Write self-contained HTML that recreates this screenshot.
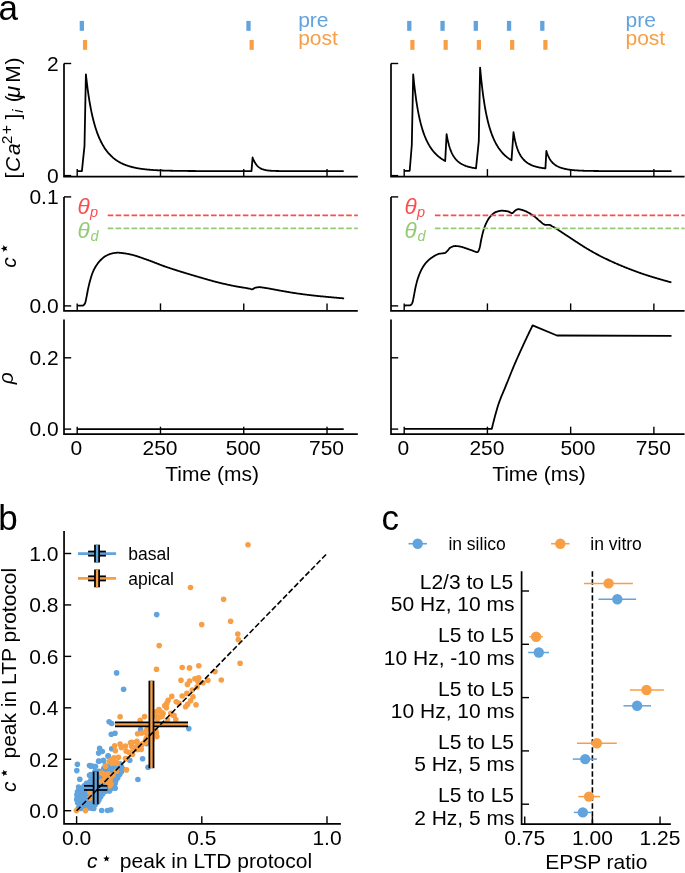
<!DOCTYPE html>
<html><head><meta charset="utf-8"><style>
html,body{margin:0;padding:0;background:#fff;}
svg{display:block;}
text{font-family:"Liberation Sans", sans-serif;}
svg{will-change:transform;}
</style></head><body>
<svg width="685" height="873" viewBox="0 0 685 873">
<path d="M64.00,63.50 L64.00,176.60 L357.80,176.60" fill="none" stroke="#000" stroke-width="1.7" stroke-linejoin="miter"/>
<line x1="77.20" y1="176.60" x2="77.20" y2="169.10" stroke="#000" stroke-width="1.4" />
<line x1="160.48" y1="176.60" x2="160.48" y2="169.10" stroke="#000" stroke-width="1.4" />
<line x1="243.75" y1="176.60" x2="243.75" y2="169.10" stroke="#000" stroke-width="1.4" />
<line x1="327.03" y1="176.60" x2="327.03" y2="169.10" stroke="#000" stroke-width="1.4" />
<path d="M64.00,196.90 L64.00,310.90 L357.80,310.90" fill="none" stroke="#000" stroke-width="1.7" stroke-linejoin="miter"/>
<line x1="77.20" y1="310.90" x2="77.20" y2="303.40" stroke="#000" stroke-width="1.4" />
<line x1="160.48" y1="310.90" x2="160.48" y2="303.40" stroke="#000" stroke-width="1.4" />
<line x1="243.75" y1="310.90" x2="243.75" y2="303.40" stroke="#000" stroke-width="1.4" />
<line x1="327.03" y1="310.90" x2="327.03" y2="303.40" stroke="#000" stroke-width="1.4" />
<path d="M64.00,319.50 L64.00,434.20 L357.80,434.20" fill="none" stroke="#000" stroke-width="1.7" stroke-linejoin="miter"/>
<line x1="77.20" y1="434.20" x2="77.20" y2="426.70" stroke="#000" stroke-width="1.4" />
<line x1="160.48" y1="434.20" x2="160.48" y2="426.70" stroke="#000" stroke-width="1.4" />
<line x1="243.75" y1="434.20" x2="243.75" y2="426.70" stroke="#000" stroke-width="1.4" />
<line x1="327.03" y1="434.20" x2="327.03" y2="426.70" stroke="#000" stroke-width="1.4" />
<line x1="64.00" y1="63.50" x2="71.20" y2="63.50" stroke="#000" stroke-width="1.4" />
<line x1="64.00" y1="175.60" x2="71.20" y2="175.60" stroke="#000" stroke-width="1.4" />
<line x1="64.00" y1="196.90" x2="71.20" y2="196.90" stroke="#000" stroke-width="1.4" />
<line x1="64.00" y1="305.90" x2="71.20" y2="305.90" stroke="#000" stroke-width="1.4" />
<line x1="64.00" y1="357.80" x2="71.20" y2="357.80" stroke="#000" stroke-width="1.4" />
<line x1="64.00" y1="429.10" x2="71.20" y2="429.10" stroke="#000" stroke-width="1.4" />
<text x="76.30" y="455.20" font-size="21" text-anchor="middle" fill="#000" >0</text>
<text x="159.98" y="455.20" font-size="21" text-anchor="middle" fill="#000" >250</text>
<text x="243.25" y="455.20" font-size="21" text-anchor="middle" fill="#000" >500</text>
<text x="326.53" y="455.20" font-size="21" text-anchor="middle" fill="#000" >750</text>
<text x="212.10" y="480.60" font-size="21" text-anchor="middle" fill="#000" >Time (ms)</text>
<path d="M391.00,63.50 L391.00,176.60 L684.60,176.60" fill="none" stroke="#000" stroke-width="1.7" stroke-linejoin="miter"/>
<line x1="404.20" y1="176.60" x2="404.20" y2="169.10" stroke="#000" stroke-width="1.4" />
<line x1="487.42" y1="176.60" x2="487.42" y2="169.10" stroke="#000" stroke-width="1.4" />
<line x1="570.65" y1="176.60" x2="570.65" y2="169.10" stroke="#000" stroke-width="1.4" />
<line x1="653.88" y1="176.60" x2="653.88" y2="169.10" stroke="#000" stroke-width="1.4" />
<path d="M391.00,196.90 L391.00,310.90 L684.60,310.90" fill="none" stroke="#000" stroke-width="1.7" stroke-linejoin="miter"/>
<line x1="404.20" y1="310.90" x2="404.20" y2="303.40" stroke="#000" stroke-width="1.4" />
<line x1="487.42" y1="310.90" x2="487.42" y2="303.40" stroke="#000" stroke-width="1.4" />
<line x1="570.65" y1="310.90" x2="570.65" y2="303.40" stroke="#000" stroke-width="1.4" />
<line x1="653.88" y1="310.90" x2="653.88" y2="303.40" stroke="#000" stroke-width="1.4" />
<path d="M391.00,319.50 L391.00,434.20 L684.60,434.20" fill="none" stroke="#000" stroke-width="1.7" stroke-linejoin="miter"/>
<line x1="404.20" y1="434.20" x2="404.20" y2="426.70" stroke="#000" stroke-width="1.4" />
<line x1="487.42" y1="434.20" x2="487.42" y2="426.70" stroke="#000" stroke-width="1.4" />
<line x1="570.65" y1="434.20" x2="570.65" y2="426.70" stroke="#000" stroke-width="1.4" />
<line x1="653.88" y1="434.20" x2="653.88" y2="426.70" stroke="#000" stroke-width="1.4" />
<line x1="391.00" y1="63.50" x2="398.20" y2="63.50" stroke="#000" stroke-width="1.4" />
<line x1="391.00" y1="175.60" x2="398.20" y2="175.60" stroke="#000" stroke-width="1.4" />
<line x1="391.00" y1="196.90" x2="398.20" y2="196.90" stroke="#000" stroke-width="1.4" />
<line x1="391.00" y1="305.90" x2="398.20" y2="305.90" stroke="#000" stroke-width="1.4" />
<line x1="391.00" y1="357.80" x2="398.20" y2="357.80" stroke="#000" stroke-width="1.4" />
<line x1="391.00" y1="429.10" x2="398.20" y2="429.10" stroke="#000" stroke-width="1.4" />
<text x="403.30" y="455.20" font-size="21" text-anchor="middle" fill="#000" >0</text>
<text x="486.92" y="455.20" font-size="21" text-anchor="middle" fill="#000" >250</text>
<text x="577.95" y="455.20" font-size="21" text-anchor="middle" fill="#000" >500</text>
<text x="653.38" y="455.20" font-size="21" text-anchor="middle" fill="#000" >750</text>
<text x="539.00" y="480.60" font-size="21" text-anchor="middle" fill="#000" >Time (ms)</text>
<text x="58.60" y="70.85" font-size="21" text-anchor="end" fill="#000" >2</text>
<text x="58.60" y="182.95" font-size="21" text-anchor="end" fill="#000" >0</text>
<text x="58.60" y="204.25" font-size="21" text-anchor="end" fill="#000" >0.1</text>
<text x="58.60" y="313.25" font-size="21" text-anchor="end" fill="#000" >0.0</text>
<text x="58.60" y="365.15" font-size="21" text-anchor="end" fill="#000" >0.2</text>
<text x="58.60" y="436.45" font-size="21" text-anchor="end" fill="#000" >0.0</text>
<text x="-1.50" y="20.00" font-size="35" text-anchor="start" fill="#000" >a</text>
<rect x="79.70" y="20.9" width="4.3" height="9.9" fill="#61A3DD"/>
<rect x="246.35" y="20.9" width="4.3" height="9.9" fill="#61A3DD"/>
<rect x="82.95" y="40.0" width="4.2" height="9.8" fill="#F89F45"/>
<rect x="249.55" y="40.0" width="4.2" height="9.8" fill="#F89F45"/>
<rect x="407.15" y="20.9" width="4.3" height="9.9" fill="#61A3DD"/>
<rect x="440.40" y="20.9" width="4.3" height="9.9" fill="#61A3DD"/>
<rect x="473.65" y="20.9" width="4.3" height="9.9" fill="#61A3DD"/>
<rect x="506.90" y="20.9" width="4.3" height="9.9" fill="#61A3DD"/>
<rect x="540.15" y="20.9" width="4.3" height="9.9" fill="#61A3DD"/>
<rect x="410.30" y="40.0" width="4.2" height="9.8" fill="#F89F45"/>
<rect x="443.55" y="40.0" width="4.2" height="9.8" fill="#F89F45"/>
<rect x="476.80" y="40.0" width="4.2" height="9.8" fill="#F89F45"/>
<rect x="510.05" y="40.0" width="4.2" height="9.8" fill="#F89F45"/>
<rect x="543.30" y="40.0" width="4.2" height="9.8" fill="#F89F45"/>
<text x="298.20" y="26.50" font-size="21" text-anchor="start" fill="#61A3DD" >pre</text>
<text x="298.20" y="45.20" font-size="21" text-anchor="start" fill="#F89F45" >post</text>
<text x="625.50" y="26.50" font-size="21" text-anchor="start" fill="#61A3DD" >pre</text>
<text x="625.50" y="45.20" font-size="21" text-anchor="start" fill="#F89F45" >post</text>
<path d="M77.20,171.10 L81.90,171.10 L84.50,145.80 L85.90,74.40 L86.40,78.93 L86.90,83.18 L87.40,87.16 L87.90,90.89 L88.40,94.40 L88.90,97.71 L89.40,100.82 L89.90,103.75 L90.40,106.53 L90.90,109.15 L91.40,111.62 L91.90,113.97 L92.40,116.20 L92.90,118.31 L93.40,120.32 L93.90,122.23 L94.40,124.05 L94.90,125.78 L95.40,127.43 L95.90,129.01 L96.40,130.51 L96.90,131.95 L97.40,133.33 L97.90,134.65 L98.40,135.91 L98.90,137.12 L99.40,138.28 L99.90,139.40 L100.40,140.47 L100.90,141.50 L101.40,142.48 L101.90,143.43 L102.40,144.35 L102.90,145.23 L103.40,146.08 L103.90,146.89 L104.40,147.68 L104.90,148.44 L105.40,149.17 L105.90,149.88 L106.40,150.56 L106.90,151.22 L107.40,151.85 L107.90,152.47 L108.40,153.06 L108.90,153.63 L109.40,154.18 L109.90,154.72 L110.40,155.24 L110.90,155.74 L111.40,156.22 L111.90,156.69 L112.40,157.14 L112.90,157.58 L113.40,158.00 L113.90,158.41 L114.40,158.80 L114.90,159.19 L115.40,159.56 L115.90,159.92 L116.40,160.27 L116.90,160.60 L117.40,160.93 L117.90,161.24 L118.40,161.55 L118.90,161.85 L119.40,162.13 L119.90,162.41 L120.40,162.68 L120.90,162.94 L121.40,163.19 L121.90,163.44 L122.40,163.67 L122.90,163.90 L123.40,164.13 L123.90,164.34 L124.40,164.55 L124.90,164.75 L125.40,164.95 L125.90,165.14 L126.40,165.32 L126.90,165.50 L127.40,165.67 L127.90,165.84 L128.40,166.00 L128.90,166.16 L129.40,166.31 L129.90,166.46 L130.40,166.60 L130.90,166.74 L131.40,166.88 L131.90,167.01 L132.40,167.13 L132.90,167.25 L133.40,167.37 L133.90,167.49 L134.40,167.60 L134.90,167.71 L135.40,167.81 L135.90,167.91 L136.40,168.01 L136.90,168.11 L137.40,168.20 L137.90,168.29 L138.40,168.37 L138.90,168.46 L139.40,168.54 L139.90,168.62 L140.40,168.69 L140.90,168.77 L141.40,168.84 L141.90,168.91 L142.40,168.98 L142.90,169.04 L143.40,169.11 L143.90,169.17 L144.40,169.23 L144.90,169.28 L145.40,169.34 L145.90,169.39 L146.40,169.45 L146.90,169.50 L147.40,169.55 L147.90,169.59 L148.40,169.64 L148.90,169.69 L149.40,169.73 L149.90,169.77 L150.40,169.81 L150.90,169.85 L151.40,169.89 L151.90,169.93 L152.40,169.96 L152.90,170.00 L153.40,170.03 L153.90,170.07 L154.40,170.10 L154.90,170.13 L155.40,170.16 L155.90,170.19 L156.40,170.22 L156.90,170.24 L157.40,170.27 L157.90,170.29 L158.40,170.32 L158.90,170.34 L159.40,170.37 L159.90,170.39 L160.40,170.41 L160.90,170.43 L161.40,170.45 L161.90,170.47 L162.40,170.49 L162.90,170.51 L163.40,170.53 L163.90,170.55 L164.40,170.56 L164.90,170.58 L165.40,170.60 L165.90,170.61 L166.40,170.63 L166.90,170.64 L167.40,170.66 L167.90,170.67 L168.40,170.68 L168.90,170.69 L169.40,170.71 L169.90,170.72 L170.40,170.73 L170.90,170.74 L171.40,170.75 L171.90,170.76 L172.40,170.77 L172.90,170.78 L173.40,170.79 L173.90,170.80 L174.40,170.81 L174.90,170.82 L175.40,170.83 L175.90,170.84 L176.40,170.85 L176.90,170.85 L177.40,170.86 L177.90,170.87 L178.40,170.88 L178.90,170.88 L179.40,170.89 L179.90,170.90 L180.40,170.90 L180.90,170.91 L181.40,170.91 L181.90,170.92 L182.40,170.93 L182.90,170.93 L183.40,170.94 L183.90,170.94 L184.40,170.95 L184.90,170.95 L185.40,170.96 L185.90,170.96 L186.40,170.96 L186.90,170.97 L187.40,170.97 L187.90,170.98 L188.40,170.98 L188.90,170.98 L189.40,170.99 L189.90,170.99 L190.40,170.99 L190.90,171.00 L191.40,171.00 L191.90,171.00 L192.40,171.01 L192.90,171.01 L193.40,171.01 L193.90,171.02 L194.40,171.02 L194.90,171.02 L195.40,171.02 L195.90,171.03 L196.40,171.03 L196.90,171.03 L197.40,171.03 L197.90,171.03 L198.40,171.04 L198.90,171.04 L199.40,171.04 L199.90,171.04 L200.40,171.04 L200.90,171.05 L201.40,171.05 L201.90,171.05 L202.40,171.05 L202.90,171.05 L203.40,171.05 L203.90,171.05 L204.40,171.06 L204.90,171.06 L205.40,171.06 L205.90,171.06 L206.40,171.06 L206.90,171.06 L207.40,171.06 L207.90,171.06 L208.40,171.07 L208.90,171.07 L209.40,171.07 L209.90,171.07 L210.40,171.07 L210.90,171.07 L211.40,171.07 L211.90,171.07 L212.40,171.07 L212.90,171.07 L213.40,171.07 L213.90,171.08 L214.40,171.08 L214.90,171.08 L215.40,171.08 L215.90,171.08 L216.40,171.08 L216.90,171.08 L217.40,171.08 L217.90,171.08 L218.40,171.08 L218.90,171.08 L219.40,171.08 L219.90,171.08 L220.40,171.08 L220.90,171.08 L221.40,171.08 L221.90,171.09 L222.40,171.09 L222.90,171.09 L223.40,171.09 L223.90,171.09 L224.40,171.09 L224.90,171.09 L225.40,171.09 L225.90,171.09 L226.40,171.09 L226.90,171.09 L227.40,171.09 L227.90,171.09 L228.40,171.09 L228.90,171.09 L229.40,171.09 L229.90,171.09 L230.40,171.09 L230.90,171.09 L231.40,171.09 L231.90,171.09 L232.40,171.09 L232.90,171.09 L233.40,171.09 L233.90,171.09 L234.40,171.09 L234.90,171.09 L235.40,171.09 L235.90,171.09 L236.40,171.09 L236.90,171.09 L237.40,171.09 L237.90,171.09 L238.40,171.09 L238.90,171.09 L239.40,171.10 L239.90,171.10 L240.40,171.10 L240.90,171.10 L241.40,171.10 L241.90,171.10 L242.40,171.10 L242.90,171.10 L243.40,171.10 L243.90,171.10 L244.40,171.10 L244.90,171.10 L245.40,171.10 L245.90,171.10 L246.40,171.10 L246.90,171.10 L247.40,171.10 L247.90,171.10 L248.40,171.10 L248.90,171.10 L249.40,171.10 L249.90,171.10 L250.40,171.10 L250.90,171.10 L251.40,171.10 L251.50,171.10 L252.60,157.50 L253.10,158.79 L253.60,159.97 L254.10,161.02 L254.60,161.98 L255.10,162.85 L255.60,163.64 L256.10,164.35 L256.60,164.99 L257.10,165.57 L257.60,166.10 L258.10,166.57 L258.60,167.00 L259.10,167.39 L259.60,167.75 L260.10,168.07 L260.60,168.35 L261.10,168.62 L261.60,168.85 L262.10,169.07 L262.60,169.26 L263.10,169.43 L263.60,169.59 L264.10,169.74 L264.60,169.87 L265.10,169.98 L265.60,170.09 L266.10,170.19 L266.60,170.27 L267.10,170.35 L267.60,170.42 L268.10,170.49 L268.60,170.55 L269.10,170.60 L269.60,170.65 L270.10,170.69 L270.60,170.73 L271.10,170.76 L271.60,170.80 L272.10,170.82 L272.60,170.85 L273.10,170.87 L273.60,170.90 L274.10,170.92 L274.60,170.93 L275.10,170.95 L275.60,170.96 L276.10,170.98 L276.60,170.99 L277.10,171.00 L277.60,171.01 L278.10,171.02 L278.60,171.02 L279.10,171.03 L279.60,171.04 L280.10,171.04 L280.60,171.05 L281.10,171.05 L281.60,171.06 L282.10,171.06 L282.60,171.07 L283.10,171.07 L283.60,171.07 L284.10,171.08 L284.60,171.08 L285.10,171.08 L285.60,171.08 L286.10,171.08 L286.60,171.08 L287.10,171.09 L287.60,171.09 L288.10,171.09 L288.60,171.09 L289.10,171.09 L289.60,171.09 L290.10,171.09 L290.60,171.09 L291.10,171.09 L291.60,171.09 L292.10,171.09 L292.60,171.10 L293.10,171.10 L293.60,171.10 L294.10,171.10 L294.60,171.10 L295.10,171.10 L295.60,171.10 L296.10,171.10 L296.60,171.10 L297.10,171.10 L297.60,171.10 L298.10,171.10 L298.60,171.10 L299.10,171.10 L299.60,171.10 L300.10,171.10 L300.60,171.10 L301.10,171.10 L301.60,171.10 L302.10,171.10 L302.60,171.10 L303.10,171.10 L303.60,171.10 L304.10,171.10 L304.60,171.10 L305.10,171.10 L305.60,171.10 L306.10,171.10 L306.60,171.10 L307.10,171.10 L307.60,171.10 L308.10,171.10 L308.60,171.10 L309.10,171.10 L309.60,171.10 L310.10,171.10 L310.60,171.10 L311.10,171.10 L311.60,171.10 L312.10,171.10 L312.60,171.10 L313.10,171.10 L313.60,171.10 L314.10,171.10 L314.60,171.10 L315.10,171.10 L315.60,171.10 L316.10,171.10 L316.60,171.10 L317.10,171.10 L317.60,171.10 L318.10,171.10 L318.60,171.10 L319.10,171.10 L319.60,171.10 L320.10,171.10 L320.60,171.10 L321.10,171.10 L321.60,171.10 L322.10,171.10 L322.60,171.10 L323.10,171.10 L323.60,171.10 L324.10,171.10 L324.60,171.10 L325.10,171.10 L325.60,171.10 L326.10,171.10 L326.60,171.10 L327.10,171.10 L327.60,171.10 L328.10,171.10 L328.60,171.10 L329.10,171.10 L329.60,171.10 L330.10,171.10 L330.60,171.10 L331.10,171.10 L331.60,171.10 L332.10,171.10 L332.60,171.10 L333.10,171.10 L333.60,171.10 L334.10,171.10 L334.60,171.10 L335.10,171.10 L335.60,171.10 L336.10,171.10 L336.60,171.10 L337.10,171.10 L337.60,171.10 L338.10,171.10 L338.60,171.10 L339.10,171.10 L339.60,171.10 L340.10,171.10 L340.60,171.10 L341.10,171.10 L341.60,171.10 L342.10,171.10 L342.60,171.10 L343.10,171.10 L343.60,171.10 L343.70,171.10" fill="none" stroke="#000" stroke-width="1.8" stroke-linejoin="round" />
<path d="M404.20,170.80 L409.70,170.80 L411.80,145.00 L413.20,74.50 L413.70,79.56 L414.20,84.26 L414.70,88.63 L415.20,92.70 L415.70,96.49 L416.20,100.03 L416.70,103.34 L417.20,106.44 L417.70,109.33 L418.20,112.05 L418.70,114.60 L419.20,117.00 L419.70,119.26 L420.20,121.38 L420.70,123.39 L421.20,125.28 L421.70,127.07 L422.20,128.76 L422.70,130.37 L423.20,131.89 L423.70,133.33 L424.20,134.70 L424.70,136.01 L425.20,137.25 L425.70,138.43 L426.20,139.56 L426.70,140.64 L427.20,141.67 L427.70,142.65 L428.20,143.59 L428.70,144.49 L429.20,145.36 L429.70,146.18 L430.20,146.98 L430.70,147.74 L431.20,148.47 L431.70,149.17 L432.20,149.85 L432.70,150.50 L433.20,151.12 L433.70,151.72 L434.20,152.30 L434.70,152.86 L435.20,153.40 L435.70,153.92 L436.20,154.42 L436.70,154.90 L437.20,155.37 L437.70,155.82 L438.20,156.25 L438.70,156.67 L439.20,157.07 L439.70,157.46 L440.20,157.84 L440.70,158.21 L441.20,158.56 L441.70,158.90 L442.20,159.23 L442.70,159.55 L443.20,159.86 L443.70,160.16 L444.20,160.45 L444.70,160.73 L445.20,161.00 L446.60,134.20 L447.10,137.04 L447.60,139.57 L448.10,141.83 L448.60,143.86 L449.10,145.69 L449.60,147.34 L450.10,148.84 L450.60,150.20 L451.10,151.44 L451.60,152.57 L452.10,153.61 L452.60,154.57 L453.10,155.45 L453.60,156.27 L454.10,157.03 L454.60,157.74 L455.10,158.39 L455.60,159.00 L456.10,159.58 L456.60,160.11 L457.10,160.62 L457.60,161.09 L458.10,161.53 L458.60,161.95 L459.10,162.34 L459.60,162.72 L460.10,163.07 L460.60,163.40 L461.10,163.71 L461.60,164.01 L462.10,164.29 L462.60,164.56 L463.10,164.81 L463.60,165.05 L464.10,165.27 L464.60,165.49 L465.10,165.69 L465.60,165.88 L466.10,166.07 L466.60,166.24 L467.10,166.41 L467.60,166.57 L468.10,166.72 L468.60,166.86 L469.10,166.99 L469.60,167.12 L470.10,167.24 L470.60,167.36 L471.10,167.47 L471.60,167.57 L472.10,167.67 L472.60,167.77 L473.10,167.86 L473.60,167.94 L474.10,168.03 L474.60,168.10 L475.10,168.18 L475.60,168.25 L476.00,168.30 L478.80,141.10 L480.10,67.60 L480.60,73.04 L481.10,78.10 L481.60,82.80 L482.10,87.18 L482.60,91.26 L483.10,95.07 L483.60,98.63 L484.10,101.96 L484.60,105.07 L485.10,108.00 L485.60,110.74 L486.10,113.32 L486.60,115.75 L487.10,118.03 L487.60,120.19 L488.10,122.23 L488.60,124.15 L489.10,125.97 L489.60,127.70 L490.10,129.34 L490.60,130.89 L491.10,132.36 L491.60,133.77 L492.10,135.10 L492.60,136.38 L493.10,137.59 L493.60,138.75 L494.10,139.86 L494.60,140.91 L495.10,141.93 L495.60,142.89 L496.10,143.82 L496.60,144.71 L497.10,145.57 L497.60,146.38 L498.10,147.17 L498.60,147.93 L499.10,148.65 L499.60,149.35 L500.10,150.02 L500.60,150.67 L501.10,151.29 L501.60,151.90 L502.10,152.47 L502.60,153.03 L503.10,153.57 L503.60,154.09 L504.10,154.59 L504.60,155.07 L505.10,155.54 L505.60,155.99 L506.10,156.43 L506.60,156.85 L507.10,157.25 L507.60,157.65 L508.10,158.03 L508.60,158.39 L509.10,158.75 L509.60,159.09 L510.10,159.43 L510.60,159.75 L511.10,160.06 L511.50,160.30 L513.50,132.20 L514.00,135.19 L514.50,137.85 L515.00,140.23 L515.50,142.37 L516.00,144.29 L516.50,146.03 L517.00,147.61 L517.50,149.04 L518.00,150.34 L518.50,151.54 L519.00,152.63 L519.50,153.64 L520.00,154.57 L520.50,155.43 L521.00,156.23 L521.50,156.97 L522.00,157.66 L522.50,158.31 L523.00,158.91 L523.50,159.48 L524.00,160.01 L524.50,160.50 L525.00,160.97 L525.50,161.41 L526.00,161.83 L526.50,162.22 L527.00,162.59 L527.50,162.94 L528.00,163.27 L528.50,163.58 L529.00,163.87 L529.50,164.15 L530.00,164.42 L530.50,164.67 L531.00,164.91 L531.50,165.13 L532.00,165.35 L532.50,165.55 L533.00,165.75 L533.50,165.93 L534.00,166.10 L534.50,166.27 L535.00,166.43 L535.50,166.58 L536.00,166.72 L536.50,166.85 L537.00,166.98 L537.50,167.10 L538.00,167.22 L538.50,167.33 L539.00,167.43 L539.50,167.53 L540.00,167.63 L540.50,167.72 L541.00,167.81 L541.50,167.89 L542.00,167.96 L542.50,168.04 L543.00,168.11 L543.50,168.17 L544.00,168.24 L544.50,168.30 L545.00,168.36 L545.40,168.40 L546.40,150.90 L546.90,152.52 L547.40,153.96 L547.90,155.25 L548.40,156.41 L548.90,157.45 L549.40,158.40 L549.90,159.25 L550.40,160.02 L550.90,160.73 L551.40,161.38 L551.90,161.97 L552.40,162.52 L552.90,163.02 L553.40,163.49 L553.90,163.92 L554.40,164.33 L554.90,164.70 L555.40,165.05 L555.90,165.38 L556.40,165.68 L556.90,165.97 L557.40,166.24 L557.90,166.49 L558.40,166.73 L558.90,166.95 L559.40,167.17 L559.90,167.37 L560.40,167.56 L560.90,167.73 L561.40,167.90 L561.90,168.06 L562.40,168.22 L562.90,168.36 L563.40,168.50 L563.90,168.63 L564.40,168.75 L564.90,168.86 L565.40,168.97 L565.90,169.08 L566.40,169.18 L566.90,169.27 L567.40,169.36 L567.90,169.45 L568.40,169.53 L568.90,169.61 L569.40,169.68 L569.90,169.75 L570.40,169.82 L570.90,169.88 L571.40,169.94 L571.90,169.99 L572.40,170.05 L572.90,170.10 L573.40,170.15 L573.90,170.20 L574.40,170.24 L574.90,170.28 L575.40,170.32 L575.90,170.36 L576.40,170.40 L576.90,170.43 L577.40,170.46 L577.90,170.49 L578.40,170.52 L578.90,170.55 L579.40,170.58 L579.90,170.60 L580.40,170.63 L580.90,170.65 L581.40,170.67 L581.90,170.69 L582.40,170.71 L582.90,170.73 L583.40,170.75 L583.90,170.77 L584.40,170.78 L584.90,170.80 L585.40,170.81 L585.90,170.83 L586.40,170.84 L586.90,170.85 L587.40,170.87 L587.90,170.88 L588.40,170.89 L588.90,170.90 L589.40,170.91 L589.90,170.92 L590.40,170.93 L590.90,170.93 L591.40,170.94 L591.90,170.95 L592.40,170.96 L592.90,170.96 L593.40,170.97 L593.90,170.98 L594.40,170.98 L594.90,170.99 L595.40,170.99 L595.90,171.00 L596.40,171.00 L596.90,171.01 L597.40,171.01 L597.90,171.02 L598.40,171.02 L598.90,171.03 L599.40,171.03 L599.90,171.03 L600.40,171.04 L600.90,171.04 L601.40,171.04 L601.90,171.05 L602.40,171.05 L602.90,171.05 L603.40,171.05 L603.90,171.05 L604.40,171.06 L604.90,171.06 L605.40,171.06 L605.90,171.06 L606.40,171.06 L606.90,171.07 L607.40,171.07 L607.90,171.07 L608.40,171.07 L608.90,171.07 L609.40,171.07 L609.90,171.08 L610.40,171.08 L610.90,171.08 L611.40,171.08 L611.90,171.08 L612.40,171.08 L612.90,171.08 L613.40,171.08 L613.90,171.08 L614.40,171.08 L614.90,171.09 L615.40,171.09 L615.90,171.09 L616.40,171.09 L616.90,171.09 L617.40,171.09 L617.90,171.09 L618.40,171.09 L618.90,171.09 L619.40,171.09 L619.90,171.09 L620.40,171.09 L620.90,171.09 L621.40,171.09 L621.90,171.09 L622.40,171.09 L622.90,171.09 L623.40,171.09 L623.90,171.09 L624.40,171.09 L624.90,171.09 L625.40,171.09 L625.90,171.10 L626.40,171.10 L626.90,171.10 L627.40,171.10 L627.90,171.10 L628.40,171.10 L628.90,171.10 L629.40,171.10 L629.90,171.10 L630.40,171.10 L630.90,171.10 L631.40,171.10 L631.90,171.10 L632.40,171.10 L632.90,171.10 L633.40,171.10 L633.90,171.10 L634.40,171.10 L634.90,171.10 L635.40,171.10 L635.90,171.10 L636.40,171.10 L636.90,171.10 L637.40,171.10 L637.90,171.10 L638.40,171.10 L638.90,171.10 L639.40,171.10 L639.90,171.10 L640.40,171.10 L640.90,171.10 L641.40,171.10 L641.90,171.10 L642.40,171.10 L642.90,171.10 L643.40,171.10 L643.90,171.10 L644.40,171.10 L644.90,171.10 L645.40,171.10 L645.90,171.10 L646.40,171.10 L646.90,171.10 L647.40,171.10 L647.90,171.10 L648.40,171.10 L648.90,171.10 L649.40,171.10 L649.90,171.10 L650.40,171.10 L650.90,171.10 L651.40,171.10 L651.90,171.10 L652.40,171.10 L652.90,171.10 L653.40,171.10 L653.90,171.10 L654.40,171.10 L654.90,171.10 L655.40,171.10 L655.90,171.10 L656.40,171.10 L656.90,171.10 L657.40,171.10 L657.90,171.10 L658.40,171.10 L658.90,171.10 L659.40,171.10 L659.90,171.10 L660.40,171.10 L660.90,171.10 L661.40,171.10 L661.90,171.10 L662.40,171.10 L662.90,171.10 L663.40,171.10 L663.90,171.10 L664.40,171.10 L664.90,171.10 L665.40,171.10 L665.90,171.10 L666.40,171.10 L666.90,171.10 L667.40,171.10 L667.90,171.10 L668.40,171.10 L668.90,171.10 L669.40,171.10 L669.90,171.10 L670.40,171.10 L670.90,171.10 L671.40,171.10 L671.50,171.10" fill="none" stroke="#000" stroke-width="1.8" stroke-linejoin="round" />
<path d="M77.20,305.60 L77.70,305.60 L78.20,305.60 L78.70,305.59 L79.20,305.59 L79.70,305.58 L80.20,305.58 L80.70,305.57 L81.20,305.56 L81.70,305.54 L82.20,305.53 L82.70,305.51 L83.20,305.44 L83.70,305.12 L84.20,304.59 L84.70,303.87 L85.20,302.99 L85.70,301.11 L86.20,298.58 L86.70,296.12 L87.20,293.46 L87.70,290.78 L88.20,288.34 L88.70,286.11 L89.20,284.00 L89.70,282.04 L90.20,280.21 L90.70,278.45 L91.20,276.77 L91.70,275.21 L92.20,273.78 L92.70,272.51 L93.20,271.34 L93.70,270.24 L94.20,269.20 L94.70,268.24 L95.20,267.33 L95.70,266.48 L96.20,265.69 L96.70,264.92 L97.20,264.19 L97.70,263.50 L98.20,262.83 L98.70,262.20 L99.20,261.60 L99.70,261.04 L100.20,260.50 L100.70,260.00 L101.20,259.51 L101.70,259.04 L102.20,258.58 L102.70,258.14 L103.20,257.72 L103.70,257.33 L104.20,256.96 L104.70,256.61 L105.20,256.29 L105.70,256.00 L106.20,255.73 L106.70,255.46 L107.20,255.21 L107.70,254.96 L108.20,254.73 L108.70,254.50 L109.20,254.30 L109.70,254.10 L110.20,253.93 L110.70,253.77 L111.20,253.64 L111.70,253.52 L112.20,253.42 L112.70,253.32 L113.20,253.23 L113.70,253.14 L114.20,253.05 L114.70,252.97 L115.20,252.90 L115.70,252.84 L116.20,252.78 L116.70,252.74 L117.20,252.72 L117.70,252.70 L118.20,252.70 L118.70,252.72 L119.20,252.74 L119.70,252.78 L120.20,252.82 L120.70,252.87 L121.20,252.93 L121.70,253.00 L122.20,253.06 L122.70,253.13 L123.20,253.20 L123.70,253.26 L124.20,253.33 L124.70,253.39 L125.20,253.47 L125.70,253.54 L126.20,253.62 L126.70,253.71 L127.20,253.80 L127.70,253.89 L128.20,253.99 L128.70,254.09 L129.20,254.19 L129.70,254.29 L130.20,254.40 L130.70,254.51 L131.20,254.62 L131.70,254.74 L132.20,254.86 L132.70,254.99 L133.20,255.12 L133.70,255.25 L134.20,255.39 L134.70,255.53 L135.20,255.68 L135.70,255.83 L136.20,255.98 L136.70,256.14 L137.20,256.30 L137.70,256.46 L138.20,256.63 L138.70,256.80 L139.20,256.97 L139.70,257.14 L140.20,257.31 L140.70,257.48 L141.20,257.66 L141.70,257.84 L142.20,258.01 L142.70,258.19 L143.20,258.37 L143.70,258.55 L144.20,258.73 L144.70,258.91 L145.20,259.09 L145.70,259.27 L146.20,259.44 L146.70,259.62 L147.20,259.80 L147.70,259.97 L148.20,260.15 L148.70,260.32 L149.20,260.50 L149.70,260.69 L150.20,260.87 L150.70,261.06 L151.20,261.25 L151.70,261.43 L152.20,261.63 L152.70,261.82 L153.20,262.01 L153.70,262.20 L154.20,262.40 L154.70,262.59 L155.20,262.79 L155.70,262.98 L156.20,263.18 L156.70,263.37 L157.20,263.57 L157.70,263.77 L158.20,263.96 L158.70,264.16 L159.20,264.35 L159.70,264.54 L160.20,264.73 L160.70,264.92 L161.20,265.11 L161.70,265.30 L162.20,265.49 L162.70,265.67 L163.20,265.86 L163.70,266.04 L164.20,266.22 L164.70,266.40 L165.20,266.57 L165.70,266.74 L166.20,266.92 L166.70,267.09 L167.20,267.26 L167.70,267.43 L168.20,267.60 L168.70,267.76 L169.20,267.93 L169.70,268.10 L170.20,268.26 L170.70,268.43 L171.20,268.59 L171.70,268.76 L172.20,268.92 L172.70,269.08 L173.20,269.24 L173.70,269.40 L174.20,269.56 L174.70,269.72 L175.20,269.88 L175.70,270.04 L176.20,270.20 L176.70,270.36 L177.20,270.52 L177.70,270.67 L178.20,270.83 L178.70,270.99 L179.20,271.14 L179.70,271.30 L180.20,271.45 L180.70,271.61 L181.20,271.77 L181.70,271.92 L182.20,272.08 L182.70,272.23 L183.20,272.39 L183.70,272.54 L184.20,272.69 L184.70,272.85 L185.20,273.00 L185.70,273.15 L186.20,273.30 L186.70,273.46 L187.20,273.61 L187.70,273.76 L188.20,273.91 L188.70,274.06 L189.20,274.21 L189.70,274.36 L190.20,274.51 L190.70,274.65 L191.20,274.80 L191.70,274.95 L192.20,275.10 L192.70,275.25 L193.20,275.39 L193.70,275.54 L194.20,275.69 L194.70,275.83 L195.20,275.98 L195.70,276.12 L196.20,276.27 L196.70,276.42 L197.20,276.56 L197.70,276.71 L198.20,276.85 L198.70,277.00 L199.20,277.14 L199.70,277.28 L200.20,277.43 L200.70,277.57 L201.20,277.72 L201.70,277.86 L202.20,278.01 L202.70,278.15 L203.20,278.30 L203.70,278.45 L204.20,278.59 L204.70,278.74 L205.20,278.88 L205.70,279.03 L206.20,279.17 L206.70,279.32 L207.20,279.46 L207.70,279.61 L208.20,279.75 L208.70,279.89 L209.20,280.04 L209.70,280.18 L210.20,280.32 L210.70,280.46 L211.20,280.60 L211.70,280.74 L212.20,280.88 L212.70,281.02 L213.20,281.15 L213.70,281.29 L214.20,281.42 L214.70,281.56 L215.20,281.69 L215.70,281.82 L216.20,281.95 L216.70,282.07 L217.20,282.20 L217.70,282.32 L218.20,282.45 L218.70,282.57 L219.20,282.69 L219.70,282.82 L220.20,282.94 L220.70,283.06 L221.20,283.18 L221.70,283.30 L222.20,283.41 L222.70,283.53 L223.20,283.65 L223.70,283.76 L224.20,283.88 L224.70,283.99 L225.20,284.11 L225.70,284.22 L226.20,284.33 L226.70,284.44 L227.20,284.55 L227.70,284.67 L228.20,284.77 L228.70,284.88 L229.20,284.99 L229.70,285.10 L230.20,285.20 L230.70,285.31 L231.20,285.41 L231.70,285.52 L232.20,285.62 L232.70,285.72 L233.20,285.82 L233.70,285.92 L234.20,286.02 L234.70,286.12 L235.20,286.22 L235.70,286.32 L236.20,286.41 L236.70,286.50 L237.20,286.59 L237.70,286.67 L238.20,286.76 L238.70,286.84 L239.20,286.93 L239.70,287.01 L240.20,287.09 L240.70,287.17 L241.20,287.25 L241.70,287.33 L242.20,287.41 L242.70,287.49 L243.20,287.57 L243.70,287.65 L244.20,287.73 L244.70,287.81 L245.20,287.89 L245.70,287.98 L246.20,288.07 L246.70,288.15 L247.20,288.24 L247.70,288.34 L248.20,288.43 L248.70,288.53 L249.20,288.63 L249.70,288.74 L250.20,288.85 L250.70,289.00 L251.20,289.17 L251.70,289.28 L252.20,289.29 L252.70,289.14 L253.20,288.88 L253.70,288.55 L254.20,288.21 L254.70,287.92 L255.20,287.72 L255.70,287.62 L256.20,287.53 L256.70,287.44 L257.20,287.36 L257.70,287.30 L258.20,287.25 L258.70,287.21 L259.20,287.20 L259.70,287.21 L260.20,287.23 L260.70,287.26 L261.20,287.31 L261.70,287.37 L262.20,287.44 L262.70,287.52 L263.20,287.60 L263.70,287.68 L264.20,287.76 L264.70,287.84 L265.20,287.92 L265.70,288.00 L266.20,288.07 L266.70,288.15 L267.20,288.23 L267.70,288.31 L268.20,288.39 L268.70,288.48 L269.20,288.56 L269.70,288.65 L270.20,288.74 L270.70,288.83 L271.20,288.93 L271.70,289.02 L272.20,289.11 L272.70,289.21 L273.20,289.30 L273.70,289.40 L274.20,289.50 L274.70,289.59 L275.20,289.69 L275.70,289.79 L276.20,289.88 L276.70,289.98 L277.20,290.07 L277.70,290.17 L278.20,290.26 L278.70,290.35 L279.20,290.44 L279.70,290.53 L280.20,290.62 L280.70,290.70 L281.20,290.79 L281.70,290.88 L282.20,290.97 L282.70,291.05 L283.20,291.14 L283.70,291.23 L284.20,291.32 L284.70,291.41 L285.20,291.49 L285.70,291.58 L286.20,291.67 L286.70,291.75 L287.20,291.84 L287.70,291.93 L288.20,292.01 L288.70,292.10 L289.20,292.18 L289.70,292.27 L290.20,292.35 L290.70,292.44 L291.20,292.52 L291.70,292.60 L292.20,292.68 L292.70,292.76 L293.20,292.84 L293.70,292.92 L294.20,293.00 L294.70,293.08 L295.20,293.15 L295.70,293.23 L296.20,293.30 L296.70,293.37 L297.20,293.45 L297.70,293.52 L298.20,293.59 L298.70,293.66 L299.20,293.73 L299.70,293.80 L300.20,293.87 L300.70,293.94 L301.20,294.01 L301.70,294.08 L302.20,294.15 L302.70,294.21 L303.20,294.28 L303.70,294.35 L304.20,294.41 L304.70,294.48 L305.20,294.54 L305.70,294.60 L306.20,294.67 L306.70,294.73 L307.20,294.79 L307.70,294.86 L308.20,294.92 L308.70,294.98 L309.20,295.04 L309.70,295.10 L310.20,295.16 L310.70,295.22 L311.20,295.27 L311.70,295.33 L312.20,295.39 L312.70,295.45 L313.20,295.50 L313.70,295.56 L314.20,295.61 L314.70,295.66 L315.20,295.72 L315.70,295.77 L316.20,295.82 L316.70,295.88 L317.20,295.93 L317.70,295.98 L318.20,296.03 L318.70,296.08 L319.20,296.13 L319.70,296.18 L320.20,296.23 L320.70,296.28 L321.20,296.33 L321.70,296.37 L322.20,296.42 L322.70,296.47 L323.20,296.52 L323.70,296.57 L324.20,296.61 L324.70,296.66 L325.20,296.71 L325.70,296.76 L326.20,296.80 L326.70,296.85 L327.20,296.90 L327.70,296.94 L328.20,296.99 L328.70,297.04 L329.20,297.08 L329.70,297.13 L330.20,297.18 L330.70,297.22 L331.20,297.27 L331.70,297.32 L332.20,297.36 L332.70,297.41 L333.20,297.45 L333.70,297.50 L334.20,297.54 L334.70,297.59 L335.20,297.63 L335.70,297.68 L336.20,297.72 L336.70,297.77 L337.20,297.81 L337.70,297.85 L338.20,297.90 L338.70,297.94 L339.20,297.98 L339.70,298.03 L340.20,298.07 L340.70,298.11 L341.20,298.16 L341.70,298.20 L342.20,298.24 L342.70,298.28 L343.20,298.33 L343.70,298.37 L344.10,298.40" fill="none" stroke="#000" stroke-width="1.8" stroke-linejoin="round" />
<path d="M404.10,305.50 L404.60,305.50 L405.10,305.50 L405.60,305.49 L406.10,305.48 L406.60,305.47 L407.10,305.46 L407.60,305.44 L408.10,305.42 L408.60,305.40 L409.10,305.37 L409.60,305.34 L410.10,305.31 L410.60,305.17 L411.10,304.77 L411.60,304.15 L412.10,303.36 L412.60,302.18 L413.10,299.94 L413.60,297.30 L414.10,294.81 L414.60,292.15 L415.10,289.46 L415.60,286.98 L416.10,284.86 L416.60,282.89 L417.10,281.04 L417.60,279.33 L418.10,277.77 L418.60,276.35 L419.10,275.01 L419.60,273.75 L420.10,272.57 L420.60,271.45 L421.10,270.41 L421.60,269.43 L422.10,268.52 L422.60,267.66 L423.10,266.83 L423.60,266.04 L424.10,265.28 L424.60,264.57 L425.10,263.89 L425.60,263.25 L426.10,262.66 L426.60,262.10 L427.10,261.58 L427.60,261.07 L428.10,260.59 L428.60,260.13 L429.10,259.68 L429.60,259.26 L430.10,258.85 L430.60,258.46 L431.10,258.09 L431.60,257.73 L432.10,257.39 L432.60,257.06 L433.10,256.75 L433.60,256.43 L434.10,256.12 L434.60,255.82 L435.10,255.52 L435.60,255.24 L436.10,254.97 L436.60,254.72 L437.10,254.49 L437.60,254.28 L438.10,254.10 L438.60,253.95 L439.10,253.83 L439.60,253.73 L440.10,253.65 L440.60,253.58 L441.10,253.53 L441.60,253.47 L442.10,253.42 L442.60,253.36 L443.10,253.30 L443.60,253.22 L444.10,253.13 L444.60,253.01 L445.10,252.87 L445.60,252.60 L446.10,252.20 L446.60,251.72 L447.10,251.20 L447.60,250.70 L448.10,250.11 L448.60,249.44 L449.10,248.78 L449.60,248.20 L450.10,247.80 L450.60,247.52 L451.10,247.25 L451.60,247.00 L452.10,246.76 L452.60,246.55 L453.10,246.37 L453.60,246.22 L454.10,246.11 L454.60,246.03 L455.10,246.00 L455.60,246.01 L456.10,246.03 L456.60,246.06 L457.10,246.11 L457.60,246.16 L458.10,246.23 L458.60,246.31 L459.10,246.39 L459.60,246.48 L460.10,246.57 L460.60,246.66 L461.10,246.76 L461.60,246.86 L462.10,246.99 L462.60,247.15 L463.10,247.32 L463.60,247.50 L464.10,247.68 L464.60,247.86 L465.10,248.03 L465.60,248.20 L466.10,248.37 L466.60,248.55 L467.10,248.72 L467.60,248.90 L468.10,249.07 L468.60,249.25 L469.10,249.42 L469.60,249.59 L470.10,249.77 L470.60,249.93 L471.10,250.10 L471.60,250.27 L472.10,250.46 L472.60,250.67 L473.10,250.87 L473.60,251.08 L474.10,251.28 L474.60,251.48 L475.10,251.65 L475.60,251.81 L476.10,251.93 L476.60,252.03 L477.10,252.09 L477.60,252.09 L478.10,251.63 L478.60,250.70 L479.10,249.50 L479.60,248.04 L480.10,245.75 L480.60,242.99 L481.10,240.25 L481.60,237.92 L482.10,235.73 L482.60,233.64 L483.10,231.73 L483.60,230.06 L484.10,228.51 L484.60,227.06 L485.10,225.71 L485.60,224.47 L486.10,223.33 L486.60,222.30 L487.10,221.35 L487.60,220.44 L488.10,219.59 L488.60,218.80 L489.10,218.05 L489.60,217.37 L490.10,216.75 L490.60,216.19 L491.10,215.66 L491.60,215.15 L492.10,214.65 L492.60,214.18 L493.10,213.74 L493.60,213.33 L494.10,212.96 L494.60,212.63 L495.10,212.36 L495.60,212.14 L496.10,211.96 L496.60,211.78 L497.10,211.61 L497.60,211.45 L498.10,211.30 L498.60,211.16 L499.10,211.04 L499.60,210.93 L500.10,210.84 L500.60,210.77 L501.10,210.73 L501.60,210.70 L502.10,210.70 L502.60,210.72 L503.10,210.74 L503.60,210.78 L504.10,210.82 L504.60,210.88 L505.10,210.94 L505.60,211.01 L506.10,211.09 L506.60,211.17 L507.10,211.26 L507.60,211.35 L508.10,211.44 L508.60,211.61 L509.10,211.84 L509.60,212.10 L510.10,212.38 L510.60,212.64 L511.10,212.86 L511.60,213.02 L512.10,213.10 L512.60,213.01 L513.10,212.67 L513.60,212.18 L514.10,211.63 L514.60,211.10 L515.10,210.70 L515.60,210.37 L516.10,210.03 L516.60,209.72 L517.10,209.45 L517.60,209.27 L518.10,209.20 L518.60,209.22 L519.10,209.26 L519.60,209.33 L520.10,209.42 L520.60,209.54 L521.10,209.67 L521.60,209.81 L522.10,209.97 L522.60,210.13 L523.10,210.30 L523.60,210.47 L524.10,210.63 L524.60,210.80 L525.10,210.99 L525.60,211.20 L526.10,211.43 L526.60,211.67 L527.10,211.92 L527.60,212.19 L528.10,212.47 L528.60,212.75 L529.10,213.04 L529.60,213.33 L530.10,213.62 L530.60,213.92 L531.10,214.22 L531.60,214.53 L532.10,214.85 L532.60,215.18 L533.10,215.52 L533.60,215.87 L534.10,216.23 L534.60,216.60 L535.10,216.98 L535.60,217.39 L536.10,217.82 L536.60,218.28 L537.10,218.74 L537.60,219.21 L538.10,219.66 L538.60,220.08 L539.10,220.48 L539.60,220.88 L540.10,221.30 L540.60,221.74 L541.10,222.19 L541.60,222.63 L542.10,223.05 L542.60,223.46 L543.10,223.83 L543.60,224.16 L544.10,224.44 L544.60,224.66 L545.10,224.82 L545.60,224.89 L546.10,224.90 L546.60,224.90 L547.10,224.90 L547.60,224.90 L548.10,224.90 L548.60,224.90 L549.10,224.90 L549.60,224.94 L550.10,225.08 L550.60,225.31 L551.10,225.59 L551.60,225.90 L552.10,226.21 L552.60,226.50 L553.10,226.77 L553.60,227.04 L554.10,227.33 L554.60,227.62 L555.10,227.92 L555.60,228.23 L556.10,228.54 L556.60,228.86 L557.10,229.18 L557.60,229.50 L558.10,229.83 L558.60,230.16 L559.10,230.50 L559.60,230.83 L560.10,231.17 L560.60,231.51 L561.10,231.84 L561.60,232.18 L562.10,232.51 L562.60,232.85 L563.10,233.18 L563.60,233.51 L564.10,233.83 L564.60,234.15 L565.10,234.48 L565.60,234.81 L566.10,235.14 L566.60,235.46 L567.10,235.79 L567.60,236.12 L568.10,236.46 L568.60,236.79 L569.10,237.12 L569.60,237.45 L570.10,237.78 L570.60,238.11 L571.10,238.44 L571.60,238.78 L572.10,239.11 L572.60,239.44 L573.10,239.76 L573.60,240.09 L574.10,240.42 L574.60,240.75 L575.10,241.07 L575.60,241.39 L576.10,241.72 L576.60,242.04 L577.10,242.37 L577.60,242.69 L578.10,243.02 L578.60,243.35 L579.10,243.67 L579.60,243.99 L580.10,244.32 L580.60,244.64 L581.10,244.96 L581.60,245.28 L582.10,245.60 L582.60,245.92 L583.10,246.24 L583.60,246.56 L584.10,246.87 L584.60,247.18 L585.10,247.49 L585.60,247.79 L586.10,248.10 L586.60,248.40 L587.10,248.70 L587.60,249.00 L588.10,249.29 L588.60,249.59 L589.10,249.88 L589.60,250.18 L590.10,250.47 L590.60,250.76 L591.10,251.04 L591.60,251.33 L592.10,251.62 L592.60,251.90 L593.10,252.18 L593.60,252.46 L594.10,252.74 L594.60,253.02 L595.10,253.29 L595.60,253.56 L596.10,253.84 L596.60,254.11 L597.10,254.37 L597.60,254.64 L598.10,254.91 L598.60,255.17 L599.10,255.43 L599.60,255.69 L600.10,255.95 L600.60,256.20 L601.10,256.46 L601.60,256.71 L602.10,256.96 L602.60,257.21 L603.10,257.46 L603.60,257.71 L604.10,257.96 L604.60,258.20 L605.10,258.45 L605.60,258.69 L606.10,258.93 L606.60,259.17 L607.10,259.41 L607.60,259.65 L608.10,259.88 L608.60,260.12 L609.10,260.35 L609.60,260.59 L610.10,260.82 L610.60,261.05 L611.10,261.28 L611.60,261.51 L612.10,261.74 L612.60,261.96 L613.10,262.19 L613.60,262.41 L614.10,262.64 L614.60,262.86 L615.10,263.08 L615.60,263.30 L616.10,263.52 L616.60,263.74 L617.10,263.95 L617.60,264.17 L618.10,264.38 L618.60,264.60 L619.10,264.81 L619.60,265.02 L620.10,265.23 L620.60,265.44 L621.10,265.65 L621.60,265.86 L622.10,266.07 L622.60,266.27 L623.10,266.48 L623.60,266.68 L624.10,266.88 L624.60,267.09 L625.10,267.29 L625.60,267.49 L626.10,267.69 L626.60,267.88 L627.10,268.08 L627.60,268.28 L628.10,268.47 L628.60,268.67 L629.10,268.86 L629.60,269.06 L630.10,269.25 L630.60,269.44 L631.10,269.63 L631.60,269.82 L632.10,270.01 L632.60,270.20 L633.10,270.39 L633.60,270.58 L634.10,270.77 L634.60,270.96 L635.10,271.14 L635.60,271.33 L636.10,271.51 L636.60,271.70 L637.10,271.88 L637.60,272.06 L638.10,272.25 L638.60,272.43 L639.10,272.61 L639.60,272.78 L640.10,272.96 L640.60,273.14 L641.10,273.31 L641.60,273.49 L642.10,273.66 L642.60,273.83 L643.10,274.00 L643.60,274.17 L644.10,274.34 L644.60,274.50 L645.10,274.67 L645.60,274.83 L646.10,274.99 L646.60,275.15 L647.10,275.31 L647.60,275.47 L648.10,275.63 L648.60,275.79 L649.10,275.95 L649.60,276.10 L650.10,276.26 L650.60,276.41 L651.10,276.57 L651.60,276.72 L652.10,276.87 L652.60,277.03 L653.10,277.18 L653.60,277.33 L654.10,277.48 L654.60,277.63 L655.10,277.78 L655.60,277.93 L656.10,278.08 L656.60,278.23 L657.10,278.37 L657.60,278.52 L658.10,278.67 L658.60,278.82 L659.10,278.96 L659.60,279.11 L660.10,279.25 L660.60,279.40 L661.10,279.54 L661.60,279.69 L662.10,279.83 L662.60,279.97 L663.10,280.12 L663.60,280.26 L664.10,280.40 L664.60,280.54 L665.10,280.68 L665.60,280.82 L666.10,280.96 L666.60,281.10 L667.10,281.24 L667.60,281.37 L668.10,281.51 L668.60,281.65 L669.10,281.78 L669.60,281.92 L670.10,282.05 L670.60,282.19 L671.10,282.32 L671.40,282.40" fill="none" stroke="#000" stroke-width="1.8" stroke-linejoin="round" />
<path d="M77.20,429.10 L343.70,429.10" fill="none" stroke="#000" stroke-width="1.8" stroke-linejoin="round" />
<path d="M404.20,428.80 L491.80,428.80 L492.30,426.71 L492.80,424.65 L493.30,422.63 L493.80,420.66 L494.30,418.75 L494.80,416.88 L495.30,415.04 L495.80,413.21 L496.30,411.42 L496.80,409.67 L497.30,407.98 L497.80,406.35 L498.30,404.80 L498.80,403.33 L499.30,401.91 L499.80,400.55 L500.30,399.22 L500.80,397.94 L501.30,396.69 L501.80,395.46 L502.30,394.26 L502.80,393.07 L503.30,391.89 L503.80,390.71 L504.30,389.53 L504.80,388.35 L505.30,387.15 L505.80,385.94 L506.30,384.70 L506.80,383.46 L507.30,382.21 L507.80,380.96 L508.30,379.71 L508.80,378.46 L509.30,377.21 L509.80,375.97 L510.30,374.72 L510.80,373.48 L511.30,372.25 L511.80,371.02 L512.30,369.79 L512.80,368.58 L513.30,367.38 L513.80,366.18 L514.30,365.00 L514.80,363.83 L515.30,362.67 L515.80,361.52 L516.30,360.38 L516.80,359.25 L517.30,358.12 L517.80,357.00 L518.30,355.89 L518.80,354.78 L519.30,353.68 L519.80,352.58 L520.30,351.48 L520.80,350.39 L521.30,349.30 L521.80,348.22 L522.30,347.13 L522.80,346.05 L523.30,344.97 L523.80,343.89 L524.30,342.81 L524.80,341.74 L525.30,340.67 L525.80,339.60 L526.30,338.54 L526.80,337.47 L527.30,336.42 L527.80,335.36 L528.30,334.31 L528.80,333.26 L529.30,332.22 L529.80,331.17 L530.30,330.13 L530.80,329.10 L531.30,328.07 L531.80,327.04 L532.30,326.01 L532.60,325.40 L556.90,335.50 L671.50,335.80" fill="none" stroke="#000" stroke-width="1.8" stroke-linejoin="round" />
<line x1="107.70" y1="215.40" x2="357.80" y2="215.40" stroke="#FB4D4D" stroke-width="1.6" stroke-dasharray="5.6 2.35"/>
<line x1="107.70" y1="228.40" x2="357.80" y2="228.40" stroke="#93CB74" stroke-width="1.6" stroke-dasharray="5.6 2.35"/>
<line x1="434.90" y1="215.40" x2="684.60" y2="215.40" stroke="#FB4D4D" stroke-width="1.6" stroke-dasharray="5.6 2.35"/>
<line x1="434.90" y1="228.40" x2="684.60" y2="228.40" stroke="#93CB74" stroke-width="1.6" stroke-dasharray="5.6 2.35"/>
<text x="77.50" y="214" font-size="22.5" fill="#FB4D4D" font-style="italic">θ</text>
<text x="90.00" y="217.1" font-size="14.5" fill="#FB4D4D" font-style="italic">p</text>
<text x="77.50" y="237.6" font-size="22.5" fill="#93CB74" font-style="italic">θ</text>
<text x="90.50" y="241.1" font-size="14.5" fill="#93CB74" font-style="italic">d</text>
<text x="404.50" y="214" font-size="22.5" fill="#FB4D4D" font-style="italic">θ</text>
<text x="417.00" y="217.1" font-size="14.5" fill="#FB4D4D" font-style="italic">p</text>
<text x="404.50" y="237.6" font-size="22.5" fill="#93CB74" font-style="italic">θ</text>
<text x="417.50" y="241.1" font-size="14.5" fill="#93CB74" font-style="italic">d</text>
<text transform="translate(20,178.4) rotate(-90)" font-size="21">[</text>
<text transform="translate(20,172) rotate(-90)" font-size="21" font-style="italic">C</text>
<text transform="translate(20,154.9) rotate(-90)" font-size="21" font-style="italic">a</text>
<text transform="translate(12.2,143.9) rotate(-90)" font-size="15">2</text>
<text transform="translate(12.4,134.2) rotate(-90)" font-size="16">+</text>
<text transform="translate(20,119.6) rotate(-90)" font-size="21">]</text>
<text transform="translate(23.1,112.7) rotate(-90)" font-size="15" font-style="italic">i</text>
<text transform="translate(20,102.2) rotate(-90)" font-size="21">(</text>
<text transform="translate(20,98.0) rotate(-90)" font-size="22" font-style="italic">μ</text>
<text transform="translate(20,82.7) rotate(-90)" font-size="21">M</text>
<text transform="translate(20,64.5) rotate(-90)" font-size="21">)</text>
<text transform="translate(16.2,267.7) rotate(-90)" font-size="21" font-style="italic">c</text>
<text transform="translate(12.5,384.2) rotate(-90)" font-size="21" font-style="italic">ρ</text>
<polygon points="0.90,248.50 3.19,247.55 3.39,245.08 5.00,246.96 7.41,246.38 6.12,248.50 7.41,250.62 5.00,250.04 3.39,251.92 3.19,249.45" fill="#000"/>
<text x="-1.70" y="530.30" font-size="35" text-anchor="start" fill="#000" >b</text>
<path d="M64.05,531.1 L64.05,823.8 L340.9,823.8" fill="none" stroke="#000" stroke-width="1.7"/>
<line x1="64.05" y1="810.70" x2="71.20" y2="810.70" stroke="#000" stroke-width="1.4" />
<text x="58.50" y="818.05" font-size="21" text-anchor="end" fill="#000" >0.0</text>
<line x1="64.05" y1="759.26" x2="71.20" y2="759.26" stroke="#000" stroke-width="1.4" />
<text x="58.50" y="766.61" font-size="21" text-anchor="end" fill="#000" >0.2</text>
<line x1="64.05" y1="707.82" x2="71.20" y2="707.82" stroke="#000" stroke-width="1.4" />
<text x="58.50" y="715.17" font-size="21" text-anchor="end" fill="#000" >0.4</text>
<line x1="64.05" y1="656.38" x2="71.20" y2="656.38" stroke="#000" stroke-width="1.4" />
<text x="58.50" y="663.73" font-size="21" text-anchor="end" fill="#000" >0.6</text>
<line x1="64.05" y1="604.94" x2="71.20" y2="604.94" stroke="#000" stroke-width="1.4" />
<text x="58.50" y="612.29" font-size="21" text-anchor="end" fill="#000" >0.8</text>
<line x1="64.05" y1="553.50" x2="71.20" y2="553.50" stroke="#000" stroke-width="1.4" />
<text x="58.50" y="560.85" font-size="21" text-anchor="end" fill="#000" >1.0</text>
<line x1="76.60" y1="823.80" x2="76.60" y2="816.20" stroke="#000" stroke-width="1.4" />
<text x="76.60" y="844.80" font-size="21" text-anchor="middle" fill="#000" >0.0</text>
<line x1="201.80" y1="823.80" x2="201.80" y2="816.20" stroke="#000" stroke-width="1.4" />
<text x="201.80" y="844.80" font-size="21" text-anchor="middle" fill="#000" >0.5</text>
<line x1="327.00" y1="823.80" x2="327.00" y2="816.20" stroke="#000" stroke-width="1.4" />
<text x="327.00" y="844.80" font-size="21" text-anchor="middle" fill="#000" >1.0</text>
<circle cx="116.69" cy="762.99" r="2.8" fill="#61A3DD"/>
<circle cx="119.83" cy="763.81" r="2.8" fill="#61A3DD"/>
<circle cx="105.25" cy="765.71" r="2.8" fill="#61A3DD"/>
<circle cx="108.80" cy="766.24" r="2.8" fill="#61A3DD"/>
<circle cx="111.93" cy="765.88" r="2.8" fill="#61A3DD"/>
<circle cx="115.36" cy="766.50" r="2.8" fill="#61A3DD"/>
<circle cx="117.81" cy="766.74" r="2.8" fill="#61A3DD"/>
<circle cx="121.44" cy="766.61" r="2.8" fill="#61A3DD"/>
<circle cx="103.74" cy="768.59" r="2.8" fill="#61A3DD"/>
<circle cx="106.53" cy="769.36" r="2.8" fill="#61A3DD"/>
<circle cx="109.58" cy="768.67" r="2.8" fill="#61A3DD"/>
<circle cx="112.89" cy="768.98" r="2.8" fill="#61A3DD"/>
<circle cx="115.80" cy="768.44" r="2.8" fill="#61A3DD"/>
<circle cx="119.55" cy="768.60" r="2.8" fill="#61A3DD"/>
<circle cx="123.02" cy="769.35" r="2.8" fill="#61A3DD"/>
<circle cx="95.01" cy="771.50" r="2.8" fill="#61A3DD"/>
<circle cx="99.05" cy="771.27" r="2.8" fill="#61A3DD"/>
<circle cx="101.75" cy="772.39" r="2.8" fill="#61A3DD"/>
<circle cx="105.77" cy="771.78" r="2.8" fill="#61A3DD"/>
<circle cx="108.68" cy="771.96" r="2.8" fill="#61A3DD"/>
<circle cx="111.56" cy="772.23" r="2.8" fill="#61A3DD"/>
<circle cx="114.41" cy="772.19" r="2.8" fill="#61A3DD"/>
<circle cx="117.45" cy="772.24" r="2.8" fill="#61A3DD"/>
<circle cx="121.41" cy="771.74" r="2.8" fill="#61A3DD"/>
<circle cx="90.80" cy="774.50" r="2.8" fill="#61A3DD"/>
<circle cx="93.75" cy="775.08" r="2.8" fill="#61A3DD"/>
<circle cx="97.40" cy="774.95" r="2.8" fill="#61A3DD"/>
<circle cx="100.87" cy="774.30" r="2.8" fill="#61A3DD"/>
<circle cx="104.10" cy="775.04" r="2.8" fill="#61A3DD"/>
<circle cx="106.81" cy="774.68" r="2.8" fill="#61A3DD"/>
<circle cx="109.54" cy="774.91" r="2.8" fill="#61A3DD"/>
<circle cx="112.81" cy="774.64" r="2.8" fill="#61A3DD"/>
<circle cx="115.95" cy="774.09" r="2.8" fill="#61A3DD"/>
<circle cx="119.73" cy="774.59" r="2.8" fill="#61A3DD"/>
<circle cx="92.42" cy="777.48" r="2.8" fill="#61A3DD"/>
<circle cx="95.99" cy="777.38" r="2.8" fill="#61A3DD"/>
<circle cx="99.27" cy="777.27" r="2.8" fill="#61A3DD"/>
<circle cx="102.29" cy="777.46" r="2.8" fill="#61A3DD"/>
<circle cx="105.35" cy="777.12" r="2.8" fill="#61A3DD"/>
<circle cx="108.93" cy="777.72" r="2.8" fill="#61A3DD"/>
<circle cx="111.17" cy="777.44" r="2.8" fill="#61A3DD"/>
<circle cx="115.39" cy="776.86" r="2.8" fill="#61A3DD"/>
<circle cx="117.76" cy="777.69" r="2.8" fill="#61A3DD"/>
<circle cx="90.85" cy="780.24" r="2.8" fill="#61A3DD"/>
<circle cx="93.96" cy="779.61" r="2.8" fill="#61A3DD"/>
<circle cx="97.07" cy="780.80" r="2.8" fill="#61A3DD"/>
<circle cx="100.78" cy="780.29" r="2.8" fill="#61A3DD"/>
<circle cx="103.24" cy="780.70" r="2.8" fill="#61A3DD"/>
<circle cx="106.71" cy="780.34" r="2.8" fill="#61A3DD"/>
<circle cx="109.64" cy="779.99" r="2.8" fill="#61A3DD"/>
<circle cx="113.01" cy="780.07" r="2.8" fill="#61A3DD"/>
<circle cx="115.83" cy="780.39" r="2.8" fill="#61A3DD"/>
<circle cx="86.50" cy="783.26" r="2.8" fill="#61A3DD"/>
<circle cx="89.18" cy="782.50" r="2.8" fill="#61A3DD"/>
<circle cx="92.24" cy="782.99" r="2.8" fill="#61A3DD"/>
<circle cx="95.34" cy="783.04" r="2.8" fill="#61A3DD"/>
<circle cx="98.45" cy="782.99" r="2.8" fill="#61A3DD"/>
<circle cx="102.03" cy="783.21" r="2.8" fill="#61A3DD"/>
<circle cx="105.49" cy="783.28" r="2.8" fill="#61A3DD"/>
<circle cx="108.31" cy="782.95" r="2.8" fill="#61A3DD"/>
<circle cx="112.05" cy="782.84" r="2.8" fill="#61A3DD"/>
<circle cx="115.09" cy="783.59" r="2.8" fill="#61A3DD"/>
<circle cx="84.22" cy="785.81" r="2.8" fill="#61A3DD"/>
<circle cx="87.07" cy="785.41" r="2.8" fill="#61A3DD"/>
<circle cx="91.03" cy="785.93" r="2.8" fill="#61A3DD"/>
<circle cx="94.42" cy="786.36" r="2.8" fill="#61A3DD"/>
<circle cx="97.03" cy="785.94" r="2.8" fill="#61A3DD"/>
<circle cx="100.34" cy="785.81" r="2.8" fill="#61A3DD"/>
<circle cx="103.47" cy="786.37" r="2.8" fill="#61A3DD"/>
<circle cx="106.95" cy="785.37" r="2.8" fill="#61A3DD"/>
<circle cx="110.24" cy="786.36" r="2.8" fill="#61A3DD"/>
<circle cx="113.67" cy="785.87" r="2.8" fill="#61A3DD"/>
<circle cx="79.21" cy="788.94" r="2.8" fill="#61A3DD"/>
<circle cx="83.16" cy="788.10" r="2.8" fill="#61A3DD"/>
<circle cx="85.92" cy="788.94" r="2.8" fill="#61A3DD"/>
<circle cx="89.19" cy="789.04" r="2.8" fill="#61A3DD"/>
<circle cx="92.26" cy="788.75" r="2.8" fill="#61A3DD"/>
<circle cx="95.26" cy="789.01" r="2.8" fill="#61A3DD"/>
<circle cx="99.21" cy="788.68" r="2.8" fill="#61A3DD"/>
<circle cx="101.79" cy="788.42" r="2.8" fill="#61A3DD"/>
<circle cx="105.31" cy="788.15" r="2.8" fill="#61A3DD"/>
<circle cx="108.41" cy="788.35" r="2.8" fill="#61A3DD"/>
<circle cx="111.41" cy="788.39" r="2.8" fill="#61A3DD"/>
<circle cx="115.20" cy="788.21" r="2.8" fill="#61A3DD"/>
<circle cx="77.50" cy="791.81" r="2.8" fill="#61A3DD"/>
<circle cx="80.73" cy="791.44" r="2.8" fill="#61A3DD"/>
<circle cx="84.91" cy="791.46" r="2.8" fill="#61A3DD"/>
<circle cx="87.41" cy="791.67" r="2.8" fill="#61A3DD"/>
<circle cx="91.28" cy="791.54" r="2.8" fill="#61A3DD"/>
<circle cx="93.47" cy="791.85" r="2.8" fill="#61A3DD"/>
<circle cx="96.62" cy="791.61" r="2.8" fill="#61A3DD"/>
<circle cx="100.88" cy="790.99" r="2.8" fill="#61A3DD"/>
<circle cx="103.63" cy="791.65" r="2.8" fill="#61A3DD"/>
<circle cx="106.41" cy="791.09" r="2.8" fill="#61A3DD"/>
<circle cx="109.48" cy="790.99" r="2.8" fill="#61A3DD"/>
<circle cx="76.90" cy="794.77" r="2.8" fill="#61A3DD"/>
<circle cx="79.90" cy="794.79" r="2.8" fill="#61A3DD"/>
<circle cx="83.11" cy="793.94" r="2.8" fill="#61A3DD"/>
<circle cx="85.92" cy="794.47" r="2.8" fill="#61A3DD"/>
<circle cx="89.45" cy="794.41" r="2.8" fill="#61A3DD"/>
<circle cx="92.39" cy="793.77" r="2.8" fill="#61A3DD"/>
<circle cx="96.15" cy="793.86" r="2.8" fill="#61A3DD"/>
<circle cx="99.38" cy="793.75" r="2.8" fill="#61A3DD"/>
<circle cx="102.58" cy="794.05" r="2.8" fill="#61A3DD"/>
<circle cx="77.49" cy="797.35" r="2.8" fill="#61A3DD"/>
<circle cx="81.32" cy="797.45" r="2.8" fill="#61A3DD"/>
<circle cx="84.76" cy="796.88" r="2.8" fill="#61A3DD"/>
<circle cx="87.16" cy="796.72" r="2.8" fill="#61A3DD"/>
<circle cx="90.20" cy="797.18" r="2.8" fill="#61A3DD"/>
<circle cx="93.50" cy="796.62" r="2.8" fill="#61A3DD"/>
<circle cx="96.89" cy="796.89" r="2.8" fill="#61A3DD"/>
<circle cx="100.62" cy="796.93" r="2.8" fill="#61A3DD"/>
<circle cx="76.68" cy="799.51" r="2.8" fill="#61A3DD"/>
<circle cx="79.99" cy="800.09" r="2.8" fill="#61A3DD"/>
<circle cx="82.55" cy="799.75" r="2.8" fill="#61A3DD"/>
<circle cx="86.26" cy="800.00" r="2.8" fill="#61A3DD"/>
<circle cx="89.23" cy="799.46" r="2.8" fill="#61A3DD"/>
<circle cx="92.19" cy="800.03" r="2.8" fill="#61A3DD"/>
<circle cx="95.55" cy="800.06" r="2.8" fill="#61A3DD"/>
<circle cx="99.02" cy="799.63" r="2.8" fill="#61A3DD"/>
<circle cx="77.59" cy="802.77" r="2.8" fill="#61A3DD"/>
<circle cx="81.13" cy="802.40" r="2.8" fill="#61A3DD"/>
<circle cx="84.42" cy="803.19" r="2.8" fill="#61A3DD"/>
<circle cx="87.90" cy="802.35" r="2.8" fill="#61A3DD"/>
<circle cx="91.31" cy="802.22" r="2.8" fill="#61A3DD"/>
<circle cx="93.89" cy="802.45" r="2.8" fill="#61A3DD"/>
<circle cx="97.78" cy="802.01" r="2.8" fill="#61A3DD"/>
<circle cx="79.39" cy="805.26" r="2.8" fill="#61A3DD"/>
<circle cx="82.55" cy="805.15" r="2.8" fill="#61A3DD"/>
<circle cx="86.07" cy="805.19" r="2.8" fill="#61A3DD"/>
<circle cx="88.68" cy="805.63" r="2.8" fill="#61A3DD"/>
<circle cx="92.17" cy="805.27" r="2.8" fill="#61A3DD"/>
<circle cx="95.22" cy="804.86" r="2.8" fill="#61A3DD"/>
<circle cx="78.24" cy="808.38" r="2.8" fill="#61A3DD"/>
<circle cx="80.86" cy="808.54" r="2.8" fill="#61A3DD"/>
<circle cx="84.49" cy="807.78" r="2.8" fill="#61A3DD"/>
<circle cx="87.20" cy="808.34" r="2.8" fill="#61A3DD"/>
<circle cx="91.37" cy="808.30" r="2.8" fill="#61A3DD"/>
<circle cx="93.75" cy="808.46" r="2.8" fill="#61A3DD"/>
<circle cx="156.7" cy="614.6" r="2.8" fill="#61A3DD"/>
<circle cx="116.6" cy="672.9" r="2.8" fill="#61A3DD"/>
<circle cx="123.6" cy="689.2" r="2.8" fill="#61A3DD"/>
<circle cx="109.1" cy="721.7" r="2.8" fill="#61A3DD"/>
<circle cx="111.7" cy="723.5" r="2.8" fill="#61A3DD"/>
<circle cx="111.3" cy="734.3" r="2.8" fill="#61A3DD"/>
<circle cx="115" cy="733.3" r="2.8" fill="#61A3DD"/>
<circle cx="140.6" cy="729.6" r="2.8" fill="#61A3DD"/>
<circle cx="188.8" cy="728.6" r="2.8" fill="#61A3DD"/>
<circle cx="99.6" cy="748.4" r="2.8" fill="#61A3DD"/>
<circle cx="102.3" cy="751.5" r="2.8" fill="#61A3DD"/>
<circle cx="98.6" cy="753.1" r="2.8" fill="#61A3DD"/>
<circle cx="108.3" cy="756.2" r="2.8" fill="#61A3DD"/>
<circle cx="98.6" cy="761.2" r="2.8" fill="#61A3DD"/>
<circle cx="103.6" cy="760.9" r="2.8" fill="#61A3DD"/>
<circle cx="77.4" cy="764.2" r="2.8" fill="#61A3DD"/>
<circle cx="76.8" cy="770.6" r="2.8" fill="#61A3DD"/>
<circle cx="90.9" cy="766.2" r="2.8" fill="#61A3DD"/>
<circle cx="94.9" cy="766.6" r="2.8" fill="#61A3DD"/>
<circle cx="89.5" cy="775.3" r="2.8" fill="#61A3DD"/>
<circle cx="79.8" cy="779.3" r="2.8" fill="#61A3DD"/>
<circle cx="111.7" cy="748.7" r="2.8" fill="#61A3DD"/>
<circle cx="108.1" cy="755.7" r="2.8" fill="#61A3DD"/>
<circle cx="142.6" cy="758.8" r="2.8" fill="#61A3DD"/>
<circle cx="129.8" cy="760.2" r="2.8" fill="#61A3DD"/>
<circle cx="148" cy="767.2" r="2.8" fill="#61A3DD"/>
<circle cx="137.9" cy="779.5" r="2.8" fill="#61A3DD"/>
<circle cx="110.8" cy="809.7" r="2.8" fill="#61A3DD"/>
<circle cx="101.7" cy="810.5" r="2.8" fill="#61A3DD"/>
<circle cx="107.5" cy="810.5" r="2.8" fill="#61A3DD"/>
<circle cx="78.6" cy="787.1" r="2.8" fill="#61A3DD"/>
<circle cx="146.6" cy="743.6" r="2.8" fill="#61A3DD"/>
<circle cx="89.5" cy="765.5" r="2.8" fill="#61A3DD"/>
<circle cx="92" cy="766" r="2.8" fill="#61A3DD"/>
<circle cx="95.5" cy="766.5" r="2.8" fill="#61A3DD"/>
<circle cx="98.9" cy="761.1" r="2.8" fill="#61A3DD"/>
<circle cx="103.3" cy="760.3" r="2.8" fill="#61A3DD"/>
<circle cx="248" cy="544.8" r="2.8" fill="#F89F45"/>
<circle cx="190.5" cy="587.5" r="2.8" fill="#F89F45"/>
<circle cx="223.6" cy="599.2" r="2.8" fill="#F89F45"/>
<circle cx="230.6" cy="621.2" r="2.8" fill="#F89F45"/>
<circle cx="201.7" cy="624.6" r="2.8" fill="#F89F45"/>
<circle cx="237.8" cy="634.1" r="2.8" fill="#F89F45"/>
<circle cx="238.3" cy="639.6" r="2.8" fill="#F89F45"/>
<circle cx="159.2" cy="645.6" r="2.8" fill="#F89F45"/>
<circle cx="240.1" cy="663.3" r="2.8" fill="#F89F45"/>
<circle cx="156.5" cy="669.3" r="2.8" fill="#F89F45"/>
<circle cx="182.2" cy="667.5" r="2.8" fill="#F89F45"/>
<circle cx="189.5" cy="667.9" r="2.8" fill="#F89F45"/>
<circle cx="198.8" cy="665.8" r="2.8" fill="#F89F45"/>
<circle cx="215" cy="671.6" r="2.8" fill="#F89F45"/>
<circle cx="181" cy="680.3" r="2.8" fill="#F89F45"/>
<circle cx="189.6" cy="681" r="2.8" fill="#F89F45"/>
<circle cx="194.9" cy="678.7" r="2.8" fill="#F89F45"/>
<circle cx="198.6" cy="677.8" r="2.8" fill="#F89F45"/>
<circle cx="198" cy="681.6" r="2.8" fill="#F89F45"/>
<circle cx="202.9" cy="682.8" r="2.8" fill="#F89F45"/>
<circle cx="207.9" cy="680.3" r="2.8" fill="#F89F45"/>
<circle cx="221.3" cy="680" r="2.8" fill="#F89F45"/>
<circle cx="187.4" cy="684.4" r="2.8" fill="#F89F45"/>
<circle cx="197.1" cy="686.9" r="2.8" fill="#F89F45"/>
<circle cx="192.3" cy="690" r="2.8" fill="#F89F45"/>
<circle cx="186.9" cy="693.4" r="2.8" fill="#F89F45"/>
<circle cx="182.2" cy="696" r="2.8" fill="#F89F45"/>
<circle cx="193" cy="696.7" r="2.8" fill="#F89F45"/>
<circle cx="190.6" cy="700.7" r="2.8" fill="#F89F45"/>
<circle cx="187.6" cy="704.4" r="2.8" fill="#F89F45"/>
<circle cx="185.6" cy="706.8" r="2.8" fill="#F89F45"/>
<circle cx="196" cy="704.8" r="2.8" fill="#F89F45"/>
<circle cx="176.2" cy="701.8" r="2.8" fill="#F89F45"/>
<circle cx="179.2" cy="703.4" r="2.8" fill="#F89F45"/>
<circle cx="171.8" cy="696.4" r="2.8" fill="#F89F45"/>
<circle cx="168.1" cy="700.4" r="2.8" fill="#F89F45"/>
<circle cx="166.8" cy="703.4" r="2.8" fill="#F89F45"/>
<circle cx="164.7" cy="705.8" r="2.8" fill="#F89F45"/>
<circle cx="166.4" cy="707.8" r="2.8" fill="#F89F45"/>
<circle cx="159" cy="709.5" r="2.8" fill="#F89F45"/>
<circle cx="156.7" cy="711.5" r="2.8" fill="#F89F45"/>
<circle cx="161.4" cy="712.2" r="2.8" fill="#F89F45"/>
<circle cx="160" cy="716.9" r="2.8" fill="#F89F45"/>
<circle cx="157.4" cy="718.9" r="2.8" fill="#F89F45"/>
<circle cx="170.8" cy="713.2" r="2.8" fill="#F89F45"/>
<circle cx="174.1" cy="715.5" r="2.8" fill="#F89F45"/>
<circle cx="175.8" cy="719.6" r="2.8" fill="#F89F45"/>
<circle cx="167.4" cy="719.9" r="2.8" fill="#F89F45"/>
<circle cx="162.1" cy="716.2" r="2.8" fill="#F89F45"/>
<circle cx="165.4" cy="705.4" r="2.8" fill="#F89F45"/>
<circle cx="163.1" cy="713.6" r="2.8" fill="#F89F45"/>
<circle cx="156.1" cy="715.9" r="2.8" fill="#F89F45"/>
<circle cx="172.4" cy="714.7" r="2.8" fill="#F89F45"/>
<circle cx="120.1" cy="716.8" r="2.8" fill="#F89F45"/>
<circle cx="144.6" cy="716.6" r="2.8" fill="#F89F45"/>
<circle cx="140.2" cy="720.4" r="2.8" fill="#F89F45"/>
<circle cx="137.6" cy="733.7" r="2.8" fill="#F89F45"/>
<circle cx="141.7" cy="733.1" r="2.8" fill="#F89F45"/>
<circle cx="145.2" cy="732.5" r="2.8" fill="#F89F45"/>
<circle cx="146.9" cy="729.6" r="2.8" fill="#F89F45"/>
<circle cx="147.5" cy="736" r="2.8" fill="#F89F45"/>
<circle cx="146.9" cy="740.1" r="2.8" fill="#F89F45"/>
<circle cx="156.3" cy="733.1" r="2.8" fill="#F89F45"/>
<circle cx="156.9" cy="736.6" r="2.8" fill="#F89F45"/>
<circle cx="155.7" cy="730.2" r="2.8" fill="#F89F45"/>
<circle cx="152" cy="740" r="2.8" fill="#F89F45"/>
<circle cx="131.8" cy="742.4" r="2.8" fill="#F89F45"/>
<circle cx="137" cy="741.3" r="2.8" fill="#F89F45"/>
<circle cx="141.7" cy="744.2" r="2.8" fill="#F89F45"/>
<circle cx="141.1" cy="749.5" r="2.8" fill="#F89F45"/>
<circle cx="133.5" cy="747.7" r="2.8" fill="#F89F45"/>
<circle cx="131.2" cy="752.4" r="2.8" fill="#F89F45"/>
<circle cx="145.2" cy="742.4" r="2.8" fill="#F89F45"/>
<circle cx="114.7" cy="745.7" r="2.8" fill="#F89F45"/>
<circle cx="115.4" cy="750.8" r="2.8" fill="#F89F45"/>
<circle cx="120.1" cy="744.1" r="2.8" fill="#F89F45"/>
<circle cx="121.4" cy="747.4" r="2.8" fill="#F89F45"/>
<circle cx="125.5" cy="746.1" r="2.8" fill="#F89F45"/>
<circle cx="126.1" cy="751.1" r="2.8" fill="#F89F45"/>
<circle cx="129.1" cy="752.5" r="2.8" fill="#F89F45"/>
<circle cx="130.5" cy="742.7" r="2.8" fill="#F89F45"/>
<circle cx="131.8" cy="746.4" r="2.8" fill="#F89F45"/>
<circle cx="132.5" cy="754.5" r="2.8" fill="#F89F45"/>
<circle cx="136.5" cy="742.1" r="2.8" fill="#F89F45"/>
<circle cx="137.2" cy="746.1" r="2.8" fill="#F89F45"/>
<circle cx="137.2" cy="749.4" r="2.8" fill="#F89F45"/>
<circle cx="141.2" cy="749.1" r="2.8" fill="#F89F45"/>
<circle cx="141.9" cy="744.4" r="2.8" fill="#F89F45"/>
<circle cx="145.3" cy="741" r="2.8" fill="#F89F45"/>
<circle cx="146.3" cy="738.4" r="2.8" fill="#F89F45"/>
<circle cx="111" cy="759.8" r="2.8" fill="#F89F45"/>
<circle cx="114" cy="757.8" r="2.8" fill="#F89F45"/>
<circle cx="118.4" cy="757.2" r="2.8" fill="#F89F45"/>
<circle cx="115.7" cy="763.2" r="2.8" fill="#F89F45"/>
<circle cx="111.7" cy="763.2" r="2.8" fill="#F89F45"/>
<circle cx="125.5" cy="758.5" r="2.8" fill="#F89F45"/>
<circle cx="126.5" cy="769.9" r="2.8" fill="#F89F45"/>
<circle cx="116.4" cy="771.3" r="2.8" fill="#F89F45"/>
<circle cx="113" cy="775.3" r="2.8" fill="#F89F45"/>
<circle cx="110.3" cy="776.6" r="2.8" fill="#F89F45"/>
<circle cx="105.6" cy="766.2" r="2.8" fill="#F89F45"/>
<circle cx="109.3" cy="761.5" r="2.8" fill="#F89F45"/>
<circle cx="102.5" cy="773.5" r="2.8" fill="#F89F45"/>
<circle cx="106" cy="776" r="2.8" fill="#F89F45"/>
<circle cx="104" cy="780" r="2.8" fill="#F89F45"/>
<circle cx="76.4" cy="810.6" r="2.8" fill="#F89F45"/>
<circle cx="85.5" cy="810.6" r="2.8" fill="#F89F45"/>
<circle cx="89.9" cy="798.1" r="2.8" fill="#F89F45"/>
<circle cx="89.9" cy="792.1" r="2.8" fill="#F89F45"/>
<circle cx="101.6" cy="781.3" r="2.8" fill="#F89F45"/>
<circle cx="107.7" cy="784" r="2.8" fill="#F89F45"/>
<circle cx="109.7" cy="786" r="2.8" fill="#F89F45"/>
<circle cx="101.5" cy="773" r="2.8" fill="#F89F45"/>
<circle cx="104.5" cy="775" r="2.8" fill="#F89F45"/>
<circle cx="108" cy="774" r="2.8" fill="#F89F45"/>
<circle cx="112" cy="776" r="2.8" fill="#F89F45"/>
<circle cx="110" cy="780" r="2.8" fill="#F89F45"/>
<circle cx="107.5" cy="783" r="2.8" fill="#F89F45"/>
<circle cx="111" cy="784" r="2.8" fill="#F89F45"/>
<circle cx="113.8" cy="761" r="2.8" fill="#F89F45"/>
<circle cx="117.3" cy="762.9" r="2.8" fill="#F89F45"/>
<circle cx="126.1" cy="758.5" r="2.8" fill="#F89F45"/>
<path d="M84.0,787.9 L107.4,787.9" stroke="#000" stroke-width="5.9" fill="none"/>
<path d="M84.0,787.9 L107.4,787.9" stroke="#61A3DD" stroke-width="2.4" fill="none"/>
<path d="M95.7,771.6 L95.7,804.2" stroke="#000" stroke-width="5.9" fill="none"/>
<path d="M95.7,771.6 L95.7,804.2" stroke="#61A3DD" stroke-width="2.4" fill="none"/>
<path d="M115.0,724.4 L188.0,724.4" stroke="#000" stroke-width="5.9" fill="none"/>
<path d="M115.0,724.4 L188.0,724.4" stroke="#F89F45" stroke-width="2.4" fill="none"/>
<path d="M151.45,680.7 L151.45,768.2" stroke="#000" stroke-width="5.9" fill="none"/>
<path d="M151.45,680.7 L151.45,768.2" stroke="#F89F45" stroke-width="2.4" fill="none"/>
<line x1="76.60" y1="810.70" x2="327.00" y2="553.50" stroke="#000" stroke-width="1.6" stroke-dasharray="5.6 2.4"/>
<line x1="78.00" y1="553.60" x2="116.10" y2="553.60" stroke="#61A3DD" stroke-width="2.8" />
<path d="M88.1,553.6 L105.9,553.6" stroke="#000" stroke-width="5.9" fill="none"/>
<path d="M88.1,553.6 L105.9,553.6" stroke="#61A3DD" stroke-width="2.4" fill="none"/>
<path d="M97.05,544.7 L97.05,562.5" stroke="#000" stroke-width="5.9" fill="none"/>
<path d="M97.05,544.7 L97.05,562.5" stroke="#61A3DD" stroke-width="2.4" fill="none"/>
<text x="128.20" y="559.70" font-size="17.5" text-anchor="start" fill="#000" >basal</text>
<line x1="78.00" y1="578.40" x2="116.10" y2="578.40" stroke="#F89F45" stroke-width="2.8" />
<path d="M88.1,578.4 L105.9,578.4" stroke="#000" stroke-width="5.9" fill="none"/>
<path d="M88.1,578.4 L105.9,578.4" stroke="#F89F45" stroke-width="2.4" fill="none"/>
<path d="M97.05,569.5 L97.05,587.3" stroke="#000" stroke-width="5.9" fill="none"/>
<path d="M97.05,569.5 L97.05,587.3" stroke="#F89F45" stroke-width="2.4" fill="none"/>
<text x="128.20" y="584.50" font-size="17.5" text-anchor="start" fill="#000" >apical</text>
<text transform="translate(16.2,791.9) rotate(-90)" font-size="21" font-style="italic">c</text>
<polygon points="1.00,773.00 3.16,772.10 3.35,769.77 4.87,771.54 7.15,771.00 5.93,773.00 7.15,775.00 4.87,774.46 3.35,776.23 3.16,773.90" fill="#000"/>
<text transform="translate(16.2,758.5) rotate(-90)" font-size="21">peak in LTP protocol</text>
<text x="87.0" y="868.4" font-size="21" font-style="italic">c</text>
<polygon points="106.50,855.30 107.40,857.46 109.73,857.65 107.96,859.17 108.50,861.45 106.50,860.23 104.50,861.45 105.04,859.17 103.27,857.65 105.60,857.46" fill="#000"/>
<text x="119.85" y="868.4" font-size="21">peak in LTD protocol</text>
<text x="381.50" y="530.40" font-size="35" text-anchor="start" fill="#000" >c</text>
<path d="M521.6,571.2 L521.6,824.2 L670.9,824.2" fill="none" stroke="#000" stroke-width="1.7"/>
<line x1="524.75" y1="824.20" x2="524.75" y2="816.60" stroke="#000" stroke-width="1.4" />
<text x="524.75" y="845.00" font-size="21" text-anchor="middle" fill="#000" >0.75</text>
<line x1="592.40" y1="824.20" x2="592.40" y2="816.60" stroke="#000" stroke-width="1.4" />
<text x="592.40" y="845.00" font-size="21" text-anchor="middle" fill="#000" >1.00</text>
<line x1="660.05" y1="824.20" x2="660.05" y2="816.60" stroke="#000" stroke-width="1.4" />
<text x="660.05" y="845.00" font-size="21" text-anchor="middle" fill="#000" >1.25</text>
<text x="596.30" y="868.80" font-size="21" text-anchor="middle" fill="#000" >EPSP ratio</text>
<line x1="592.40" y1="571.20" x2="592.40" y2="824.20" stroke="#000" stroke-width="1.6" stroke-dasharray="5.6 2.4"/>
<line x1="521.60" y1="591.00" x2="529.00" y2="591.00" stroke="#000" stroke-width="1.4" />
<text x="513.20" y="589.00" font-size="21" text-anchor="end" fill="#000" >L2/3 to L5</text>
<text x="514.50" y="611.30" font-size="21" text-anchor="end" fill="#000" >50 Hz, 10 ms</text>
<line x1="584.00" y1="583.40" x2="632.90" y2="583.40" stroke="#F89F45" stroke-width="1.5" />
<circle cx="608.6" cy="583.40" r="5.2" fill="#F89F45"/>
<line x1="598.40" y1="599.20" x2="636.10" y2="599.20" stroke="#61A3DD" stroke-width="1.5" />
<circle cx="617.3" cy="599.20" r="5.2" fill="#61A3DD"/>
<line x1="521.60" y1="644.30" x2="529.00" y2="644.30" stroke="#000" stroke-width="1.4" />
<text x="514.00" y="642.30" font-size="21" text-anchor="end" fill="#000" >L5 to L5</text>
<text x="514.50" y="664.60" font-size="21" text-anchor="end" fill="#000" >10 Hz, -10 ms</text>
<line x1="529.40" y1="636.70" x2="542.80" y2="636.70" stroke="#F89F45" stroke-width="1.5" />
<circle cx="536.1" cy="636.70" r="5.2" fill="#F89F45"/>
<line x1="528.20" y1="652.50" x2="549.00" y2="652.50" stroke="#61A3DD" stroke-width="1.5" />
<circle cx="538.8" cy="652.50" r="5.2" fill="#61A3DD"/>
<line x1="521.60" y1="697.60" x2="529.00" y2="697.60" stroke="#000" stroke-width="1.4" />
<text x="514.00" y="695.60" font-size="21" text-anchor="end" fill="#000" >L5 to L5</text>
<text x="514.50" y="717.90" font-size="21" text-anchor="end" fill="#000" >10 Hz, 10 ms</text>
<line x1="629.90" y1="690.00" x2="663.90" y2="690.00" stroke="#F89F45" stroke-width="1.5" />
<circle cx="646.5" cy="690.00" r="5.2" fill="#F89F45"/>
<line x1="623.50" y1="705.80" x2="651.00" y2="705.80" stroke="#61A3DD" stroke-width="1.5" />
<circle cx="637.1" cy="705.80" r="5.2" fill="#61A3DD"/>
<line x1="521.60" y1="750.90" x2="529.00" y2="750.90" stroke="#000" stroke-width="1.4" />
<text x="514.00" y="748.90" font-size="21" text-anchor="end" fill="#000" >L5 to L5</text>
<text x="514.50" y="771.20" font-size="21" text-anchor="end" fill="#000" >5 Hz, 5 ms</text>
<line x1="577.00" y1="743.30" x2="616.80" y2="743.30" stroke="#F89F45" stroke-width="1.5" />
<circle cx="596.9" cy="743.30" r="5.2" fill="#F89F45"/>
<line x1="572.80" y1="759.10" x2="596.90" y2="759.10" stroke="#61A3DD" stroke-width="1.5" />
<circle cx="585.2" cy="759.10" r="5.2" fill="#61A3DD"/>
<line x1="521.60" y1="804.20" x2="529.00" y2="804.20" stroke="#000" stroke-width="1.4" />
<text x="514.00" y="802.20" font-size="21" text-anchor="end" fill="#000" >L5 to L5</text>
<text x="514.50" y="824.50" font-size="21" text-anchor="end" fill="#000" >2 Hz, 5 ms</text>
<line x1="578.30" y1="796.60" x2="600.10" y2="796.60" stroke="#F89F45" stroke-width="1.5" />
<circle cx="589" cy="796.60" r="5.2" fill="#F89F45"/>
<line x1="573.80" y1="812.40" x2="592.00" y2="812.40" stroke="#61A3DD" stroke-width="1.5" />
<circle cx="582.8" cy="812.40" r="5.2" fill="#61A3DD"/>
<line x1="408.50" y1="543.70" x2="426.90" y2="543.70" stroke="#61A3DD" stroke-width="1.6" />
<circle cx="417.7" cy="543.7" r="5.2" fill="#61A3DD"/>
<text x="448.40" y="549.90" font-size="17.5" text-anchor="start" fill="#000" >in silico</text>
<line x1="551.10" y1="543.70" x2="569.50" y2="543.70" stroke="#F89F45" stroke-width="1.6" />
<circle cx="560.3" cy="543.7" r="5.2" fill="#F89F45"/>
<text x="590.30" y="549.90" font-size="17.5" text-anchor="start" fill="#000" >in vitro</text>
</svg></body></html>
